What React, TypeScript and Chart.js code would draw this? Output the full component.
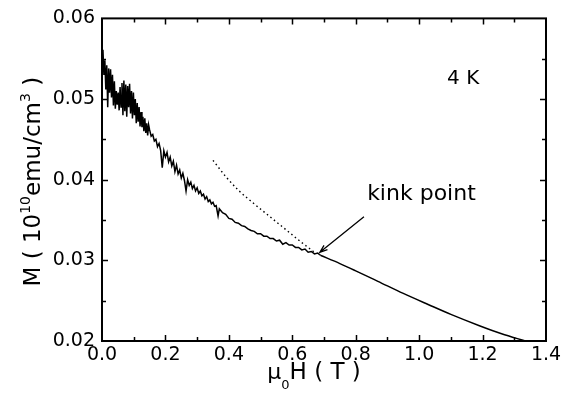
import React, { useEffect, useRef } from "react";
import { Chart, registerables } from "chart.js";
Chart.register(...registerables);

// Field (T) and magnetisation (10^10 emu/cm^3), noisy low-field part
const noisyX = [
  0.000, 0.003, 0.006, 0.009, 0.012, 0.015, 0.018, 0.021, 0.024, 0.027,
  0.030, 0.033, 0.036, 0.039, 0.042, 0.045, 0.048, 0.051, 0.054, 0.057,
  0.060, 0.063, 0.066, 0.069, 0.072, 0.075, 0.078, 0.081, 0.084, 0.087,
  0.090, 0.093, 0.096, 0.099, 0.102, 0.105, 0.108, 0.111, 0.114, 0.117,
  0.120, 0.123, 0.126, 0.129, 0.132, 0.135, 0.138, 0.141, 0.144, 0.147,
  0.150, 0.155, 0.160, 0.165, 0.170, 0.175, 0.180, 0.185, 0.190, 0.195,
  0.200, 0.205, 0.210, 0.215, 0.220, 0.225, 0.230, 0.235, 0.240, 0.245,
  0.250, 0.255, 0.260, 0.265, 0.270, 0.275, 0.280, 0.285, 0.290, 0.295,
  0.300, 0.305, 0.310, 0.315, 0.320, 0.325, 0.330, 0.335, 0.340, 0.345,
  0.350, 0.355, 0.360, 0.366, 0.370, 0.380, 0.390, 0.400, 0.410, 0.420,
  0.430, 0.440, 0.450, 0.460, 0.470, 0.480, 0.490, 0.500, 0.510, 0.520,
  0.530, 0.540, 0.550, 0.560, 0.570, 0.580, 0.590, 0.600, 0.610, 0.620,
  0.630, 0.640, 0.650, 0.660, 0.670, 0.680, 0.690,
];
const noisyM = [
  0.0535, 0.0561, 0.0530, 0.0548, 0.0512, 0.0542, 0.0490, 0.0538, 0.0508, 0.0537,
  0.0502, 0.0530, 0.0492, 0.0522, 0.0488, 0.0510, 0.0493, 0.0508, 0.0486, 0.0515,
  0.0490, 0.0520, 0.0480, 0.0523, 0.0485, 0.0518, 0.0478, 0.0516, 0.0490, 0.0519,
  0.0482, 0.0510, 0.0476, 0.0508, 0.0480, 0.0500, 0.0470, 0.0495, 0.0472, 0.0490,
  0.0466, 0.0484, 0.0465, 0.0478, 0.0460, 0.0476, 0.0458, 0.0470, 0.0455, 0.0468,
  0.0462, 0.0454, 0.0456, 0.0448, 0.0450, 0.0441, 0.0445, 0.0436, 0.0415, 0.0436,
  0.0428, 0.0434, 0.0422, 0.0428, 0.0417, 0.0423, 0.0410, 0.0418, 0.0407, 0.0412,
  0.0402, 0.0408, 0.0399, 0.0386, 0.0400, 0.0393, 0.0397, 0.0389, 0.0393, 0.0386,
  0.0390, 0.0383, 0.0386, 0.0380, 0.0382, 0.0376, 0.0379, 0.0373, 0.0375, 0.0370,
  0.0372, 0.0367, 0.0368, 0.0355, 0.0364, 0.0359, 0.0357, 0.0352, 0.0351, 0.0347,
  0.0346, 0.0343, 0.0342, 0.0339, 0.0337, 0.0336, 0.0333, 0.0333, 0.0330, 0.0330,
  0.0327, 0.0327, 0.0324, 0.0325, 0.0320, 0.0322, 0.0319, 0.0319, 0.0316, 0.0316,
  0.0313, 0.0314, 0.0310, 0.0311, 0.0308, 0.0309, 0.0306,
];
// smooth high-field part
const smoothX = [0.69, 0.75, 0.80, 0.87, 0.95, 1.03, 1.10, 1.19, 1.26, 1.335];
const smoothM = [0.0306, 0.0296, 0.0287, 0.0274, 0.0259, 0.0245, 0.0233, 0.0219, 0.0209, 0.0200];
// dotted extrapolation
const dottedX = [0.35, 0.39, 0.43, 0.48, 0.53, 0.58, 0.63, 0.67];
const dottedM = [0.0424, 0.0404, 0.0387, 0.0370, 0.0354, 0.0338, 0.0322, 0.0310];

const xTickLabels = ["0.0", "0.2", "0.4", "0.6", "0.8", "1.0", "1.2", "1.4"];
const yTickLabels = ["0.02", "0.03", "0.04", "0.05", "0.06"];

const tempLabel = { text: "4 K", x: 1.088, y: 0.0519 };
const kinkLabel = { text: "kink point", x: 0.836, y: 0.0375 };
const arrowFrom = { x: 0.826, y: 0.0354 };
const arrowTo = { x: 0.687, y: 0.031 };

const FONT = "'DejaVu Sans', 'Liberation Sans', Arial, sans-serif";

type Seg = { t: string; s: number; dy: number };

function drawRich(ctx: CanvasRenderingContext2D, segs: Seg[], cx: number, by: number) {
  let total = 0;
  for (const g of segs) {
    ctx.font = `${g.s}px ${FONT}`;
    total += ctx.measureText(g.t).width;
  }
  let x = cx - total / 2;
  ctx.textAlign = "left";
  ctx.textBaseline = "alphabetic";
  for (const g of segs) {
    ctx.font = `${g.s}px ${FONT}`;
    ctx.fillText(g.t, x, by + g.dy);
    x += ctx.measureText(g.t).width;
  }
}

const decorPlugin = {
  id: "decor",
  afterDraw(chart: any) {
    const { ctx, chartArea: a } = chart;
    const xs = chart.scales.x;
    const ys = chart.scales.y;
    ctx.save();
    ctx.strokeStyle = "#000";
    ctx.fillStyle = "#000";
    // frame
    ctx.lineWidth = 2;
    ctx.strokeRect(a.left, a.top, a.right - a.left, a.bottom - a.top);
    // inward ticks
    ctx.lineWidth = 1.5;
    ctx.beginPath();
    for (let i = 1; i < 14; i++) {
      const px = Math.round(xs.getPixelForValue(i * 0.1)) + 0.5;
      const len = i % 2 === 0 ? 6 : 4;
      ctx.moveTo(px, a.bottom);
      ctx.lineTo(px, a.bottom - len);
      ctx.moveTo(px, a.top);
      ctx.lineTo(px, a.top + len);
    }
    for (let i = 1; i < 8; i++) {
      const py = Math.round(ys.getPixelForValue(0.02 + i * 0.005)) + 0.5;
      const len = i % 2 === 0 ? 6 : 4;
      ctx.moveTo(a.left, py);
      ctx.lineTo(a.left + len, py);
      ctx.moveTo(a.right, py);
      ctx.lineTo(a.right - len, py);
    }
    ctx.stroke();

    // annotations
    ctx.font = `20px ${FONT}`;
    ctx.textAlign = "left";
    ctx.textBaseline = "alphabetic";
    ctx.fillText(tempLabel.text, xs.getPixelForValue(tempLabel.x), ys.getPixelForValue(tempLabel.y));
    ctx.font = `22px ${FONT}`;
    ctx.fillText(kinkLabel.text, xs.getPixelForValue(kinkLabel.x), ys.getPixelForValue(kinkLabel.y));

    // arrow
    const x1 = xs.getPixelForValue(arrowFrom.x);
    const y1 = ys.getPixelForValue(arrowFrom.y);
    const x2 = xs.getPixelForValue(arrowTo.x);
    const y2 = ys.getPixelForValue(arrowTo.y);
    ctx.lineWidth = 1.3;
    ctx.beginPath();
    ctx.moveTo(x1, y1);
    ctx.lineTo(x2, y2);
    const ang = Math.atan2(y1 - y2, x1 - x2);
    const hl = 8;
    ctx.moveTo(x2 + hl * Math.cos(ang + 0.35), y2 + hl * Math.sin(ang + 0.35));
    ctx.lineTo(x2, y2);
    ctx.lineTo(x2 + hl * Math.cos(ang - 0.35), y2 + hl * Math.sin(ang - 0.35));
    ctx.stroke();

    // x title: mu_0 H ( T )
    drawRich(
      ctx,
      [
        { t: "\u03bc", s: 22, dy: 0 },
        { t: "0", s: 13, dy: 10 },
        { t: "H ( T )", s: 23, dy: 0 },
      ],
      (a.left + a.right) / 2 - 10,
      379
    );

    // y title: M ( 10^10 emu/cm^3 )
    ctx.save();
    ctx.translate(40, (a.top + a.bottom) / 2 + 2);
    ctx.rotate(-Math.PI / 2);
    drawRich(
      ctx,
      [
        { t: "M ( 10", s: 23, dy: 0 },
        { t: "10", s: 14, dy: -10 },
        { t: "emu/cm", s: 23, dy: 0 },
        { t: "3", s: 14, dy: -10 },
        { t: " )", s: 23, dy: 0 },
      ],
      0,
      0
    );
    ctx.restore();
    ctx.restore();
  },
};

export default function App() {
  const ref = useRef<HTMLCanvasElement | null>(null);
  useEffect(() => {
    if (!ref.current) return;
    const toPts = (xs: number[], ys: number[]) => xs.map((x, i) => ({ x, y: ys[i] }));
    const chart = new Chart(ref.current, {
      type: "line",
      data: {
        datasets: [
          {
            data: toPts(noisyX, noisyM),
            borderColor: "#000",
            borderWidth: 1.5,
            pointRadius: 0,
            tension: 0,
          },
          {
            data: toPts(smoothX, smoothM),
            borderColor: "#000",
            borderWidth: 1.5,
            pointRadius: 0,
            cubicInterpolationMode: "monotone",
          },
          {
            data: toPts(dottedX, dottedM),
            borderColor: "#000",
            borderWidth: 1.4,
            borderDash: [1.5, 3],
            pointRadius: 0,
            cubicInterpolationMode: "monotone",
          },
        ],
      },
      options: {
        animation: false,
        responsive: false,
        devicePixelRatio: 1,
        layout: { padding: { top: 16, right: 25, left: 0, bottom: 0 } },
        plugins: { legend: { display: false }, tooltip: { enabled: false } },
        scales: {
          x: {
            type: "linear",
            min: 0,
            max: 1.4,
            grid: { display: false, drawTicks: false },
            border: { display: false },
            ticks: {
              stepSize: 0.2,
              padding: 3,
              color: "#000",
              font: { family: FONT, size: 19 },
              callback: (v: any) => xTickLabels[Math.round(Number(v) / 0.2)] ?? "",
            },
            afterFit: (s: any) => {
              s.height = 64;
            },
          },
          y: {
            type: "linear",
            min: 0.02,
            max: 0.06,
            grid: { display: false, drawTicks: false },
            border: { display: false },
            ticks: {
              stepSize: 0.01,
              padding: 7,
              color: "#000",
              font: { family: FONT, size: 19 },
              callback: (v: any) => yTickLabels[Math.round((Number(v) - 0.02) / 0.01)] ?? "",
            },
            afterFit: (s: any) => {
              s.width = 102;
            },
          },
        },
      },
      plugins: [decorPlugin],
    });
    return () => chart.destroy();
  }, []);
  return (
    <div style={{ position: "absolute", left: 0, top: 0, width: 571, height: 405, background: "#fff" }}>
      <canvas ref={ref} width={571} height={405} style={{ width: 571, height: 405 }} />
    </div>
  );
}
